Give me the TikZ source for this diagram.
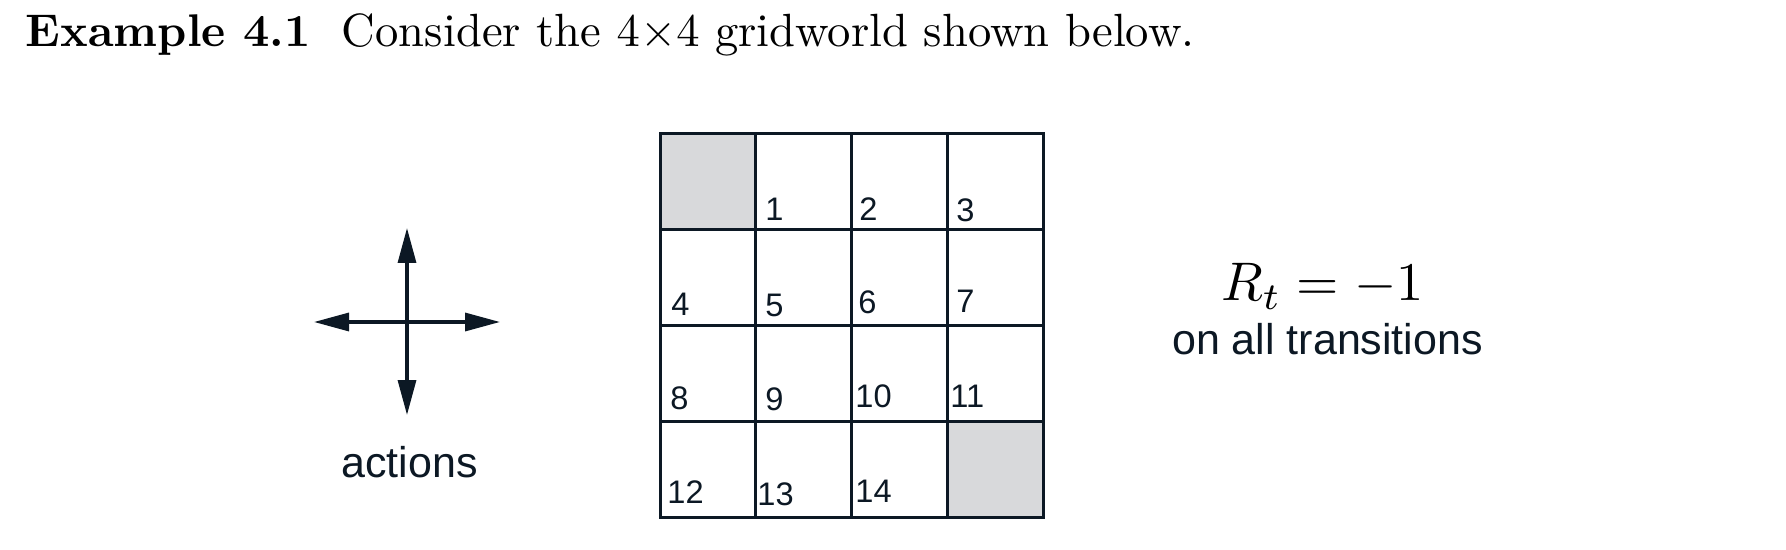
\documentclass[tikz,border=0pt]{standalone}
\usepackage{fontspec}
\setsansfont{Liberation Sans}
\usetikzlibrary{arrows.meta}
\definecolor{ink}{RGB}{12,24,36}
\definecolor{termgray}{RGB}{216,217,219}
\begin{document}
\begin{tikzpicture}[x=0.5pt,y=-0.5pt,
  cellbox/.style={draw=ink, line width=1.5pt, minimum size=47.875pt, inner sep=0pt, outer sep=0pt},
  termbox/.style={cellbox, fill=termgray},
  numlabel/.style={anchor=base west, inner sep=0pt, text=ink, font=\sffamily\fontsize{16.3}{19}\selectfont},
  sanslabel/.style={anchor=base, inner sep=0pt, text=ink, font=\sffamily\fontsize{21.5}{26}\selectfont},
  titletext/.style={anchor=base west, inner sep=0pt, font=\fontsize{10}{12}\selectfont, transform shape},
  actarrow/.style={draw=ink, line width=1.65pt, -{Triangle[length=17.5pt,width=9pt]}}]
\useasboundingbox (0,0) rectangle (1786,550);
\node[titletext, scale=2.29] (title) at (25,47) {\textbf{Example 4.1}};
\node[titletext, scale=2.33] (titlerest) at (341,47) {Consider the $4{\times}4$ gridworld shown below.};
% grid cells
\foreach \r in {0,...,3}{
  \foreach \c in {0,...,3}{
    \node[cellbox] (cell\r\c) at ({660+95.75*(\c+0.5)},{134+95.75*(\r+0.5)}) {};
  }
}
\node[termbox] (term0) at (cell00) {};
\node[termbox] (term1) at (cell33) {};
% state numbers
\foreach \n/\x/\y in {1/765/221, 2/859/221, 3/956/222, 4/671/316, 5/765/317, 6/858/314, 7/956/313,
  8/670/409, 9/765/410, 10/855/407, 11/950/407, 12/667/503, 13/757/505, 14/855/502}{
  \node[numlabel] (num\n) at (\x,\y) {\n};
}
% actions
\coordinate (ac) at (407,322);
\draw[actarrow] (ac) -- ++(0,-94);
\draw[actarrow] (ac) -- ++(0,93);
\draw[actarrow] (ac) -- ++(-93,0);
\draw[actarrow] (ac) -- ++(93,0);
\node[sanslabel] (actions) at (409.5,477) {actions};
% reward
\node[anchor=base, inner sep=0pt, font=\fontsize{10}{12}\selectfont, scale=2.72, transform shape] (reward) at (1322.5,301) {$R_t = -1$};
\node[sanslabel] (trans) at (1327.5,355) {on all transitions};
\end{tikzpicture}
\end{document}
